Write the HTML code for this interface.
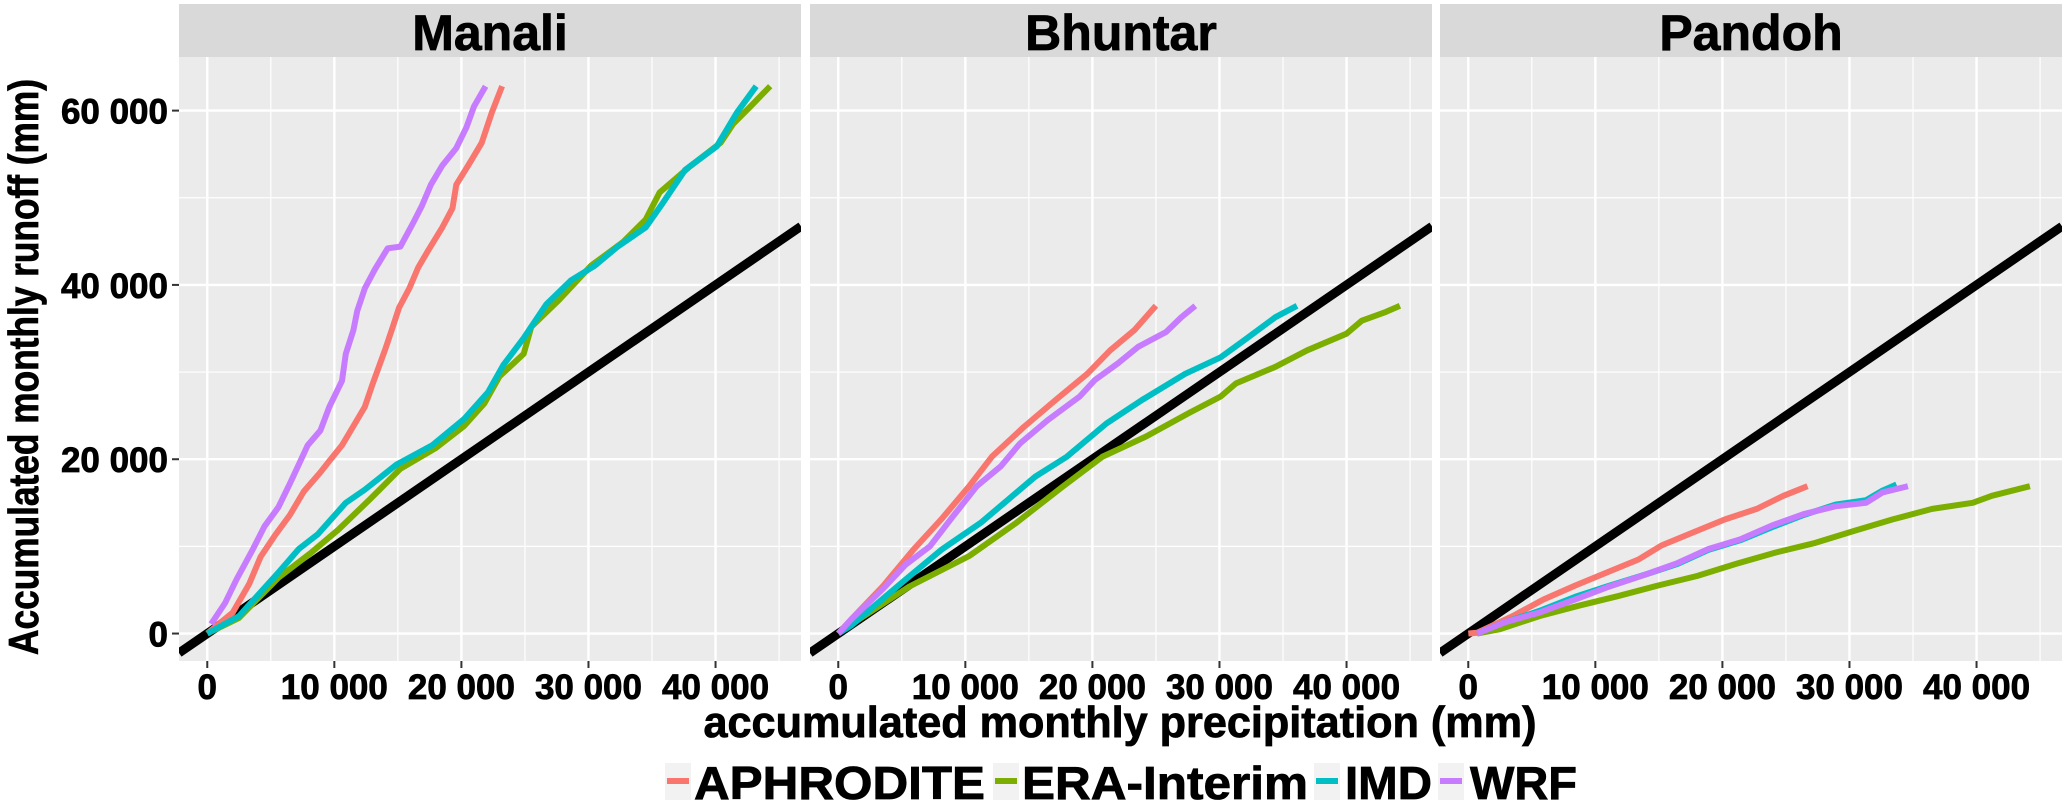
<!DOCTYPE html>
<html><head><meta charset="utf-8"><style>
html,body{margin:0;padding:0;background:#fff;}
svg{display:block;font-family:"Liberation Sans",Arial,sans-serif;font-weight:bold;}
svg text{stroke:#000;stroke-width:0.8px;}
</style></head><body>
<svg id="chart" width="2067" height="805" viewBox="0 0 2067 805" xmlns="http://www.w3.org/2000/svg">
<g id="layer"></g>
</svg>
<script>
const panelNames = ["Manali","Bhuntar","Pandoh"];
const seriesNames = ["APHRODITE","ERA-Interim","IMD","WRF"];
const seriesColors = ["#F8766D","#7CAE00","#00BFC4","#C77CFF"];
const xTicks = [0,10000,20000,30000,40000];
const xTickLabels = ["0","10 000","20 000","30 000","40 000"];
const yTicks = [0,20000,40000,60000];
const yTickLabels = ["0","20 000","40 000","60 000"];
// values in thousands of mm: [precip, runoff]
const manaliAphrodite = [[0,0],[2,2.4],[3.3,5.7],[4.2,8.8],[5.3,11.2],[6.5,13.6],[7.6,16.3],[8.9,18.5],[9.6,19.8],[10.6,21.6],[11.5,23.8],[12.4,26],[13,28.6],[14,32.6],[14.6,35.2],[15.1,37.4],[15.9,39.6],[16.6,42],[17.4,44],[18.5,46.6],[19.3,48.8],[19.6,51.5],[20.7,54.1],[21.6,56.3],[22.4,59.8],[23.2,62.8]];
const manaliEra = [[0,0],[2.5,1.8],[5.6,6.4],[8.1,9.2],[10.3,11.9],[12.8,15.4],[15.2,18.9],[18,21.3],[20.2,23.8],[21.8,26.4],[23,29.5],[24.9,32.1],[25.5,35.2],[27.7,38.3],[30.2,42.2],[32.7,44.9],[34.5,47.5],[35.6,50.6],[37.9,53.5],[40.4,56.3],[41.4,58.5],[42.9,60.7],[44.3,62.8]];
const manaliImd = [[0,0],[2.5,2],[5.6,7],[7.2,9.7],[8.7,11.4],[10.9,15],[12.4,16.5],[14.9,19.4],[17.7,21.6],[20.2,24.6],[22.1,27.7],[23.3,30.8],[24.9,33.9],[26.7,37.8],[28.6,40.5],[30.5,42.2],[32.3,44.4],[34.5,46.6],[35.8,49.3],[37.6,53.2],[40.1,55.9],[41.7,59.8],[43.2,62.8]];
const manaliWrf = [[0.3,1.1],[1.4,3.5],[2.3,6.2],[3.6,9.7],[4.5,12.3],[5.6,14.5],[6.5,17.2],[7.2,19.4],[7.9,21.6],[8.9,23.3],[9.6,26],[10.6,29],[10.9,32.1],[11.5,34.8],[11.8,37],[12.4,39.6],[13.2,41.8],[14.2,44.2],[15.2,44.4],[16.2,47.1],[16.9,49.1],[17.6,51.5],[18.5,53.7],[19.6,55.7],[20.4,58.1],[21,60.5],[21.9,62.8]];
const bhuntarAphrodite = [[0,0],[1,1.6],[3.5,5.4],[5.9,9.6],[8.1,13.1],[10.3,16.9],[12.1,20.3],[14.6,23.7],[17.1,26.8],[19.6,29.8],[21.4,32.5],[23.3,34.8],[25,37.6]];
const bhuntarEra = [[0,0],[1.6,1.6],[5.6,5.4],[10.3,8.9],[14,12.7],[17.7,16.9],[20.8,20.3],[24.2,22.6],[27.6,25.3],[30.1,27.2],[31.3,28.7],[34.4,30.6],[36.9,32.5],[40,34.4],[41.2,35.9],[43.1,36.9],[44.2,37.6]];
const bhuntarImd = [[0,0],[1,0.9],[5.3,6.2],[8.1,9.6],[11.2,12.7],[13.4,15.4],[15.5,18],[18,20.3],[21.1,24.1],[23.9,26.8],[27.3,29.8],[30.1,31.7],[31.9,33.6],[34.4,36.3],[36.1,37.6]];
const bhuntarWrf = [[0,0],[1,1.6],[3.5,5.1],[5.3,7.9],[7.2,10],[9,13.4],[10.9,16.9],[12.8,19.2],[14.3,21.8],[16.5,24.5],[19,27.2],[20.2,29.1],[22,31],[23.6,32.9],[25.8,34.6],[27,36.3],[28.1,37.6]];
const pandohAphrodite = [[0,0],[0.7,0.1],[3.5,2],[5.9,3.9],[8.4,5.5],[10.9,7],[13.4,8.5],[15.2,10.1],[17.7,11.6],[20.2,13.1],[22.7,14.3],[24.8,15.8],[26.7,16.9]];
const pandohEra = [[0.7,0],[2.5,0.5],[5.6,2],[8.7,3.2],[11.8,4.3],[14.9,5.5],[18,6.6],[21.1,8],[24.2,9.3],[27.3,10.4],[30.4,11.8],[33.4,13.1],[36.5,14.3],[39.7,15],[41.2,15.8],[44.2,16.9]];
const pandohImd = [[0.7,0],[2.9,1.3],[5.6,2.6],[8.4,4.2],[10.9,5.4],[14,6.8],[16.5,8],[18.9,9.6],[21.4,10.7],[23.9,12.2],[26.4,13.6],[28.9,14.8],[31.3,15.3],[32.6,16.4],[33.7,17.1]];
const pandohWrf = [[0.7,0],[2.9,1.3],[5.6,2.4],[8.4,3.9],[10.9,5.3],[14,6.8],[16.5,8.1],[18.9,9.7],[21.4,10.8],[23.9,12.4],[26.4,13.7],[28.9,14.6],[31.3,15],[32.6,16.2],[34.6,16.9]];
const panelSeries = [[manaliAphrodite,manaliEra,manaliImd,manaliWrf],[bhuntarAphrodite,bhuntarEra,bhuntarImd,bhuntarWrf],[pandohAphrodite,pandohEra,pandohImd,pandohWrf]];

const NS="http://www.w3.org/2000/svg";
const layer=document.getElementById('layer');
const panelLeft=[179,810,1440], PW=622, PT=57, PB=661;
const XMIN=-2225, XMAX=46725, YMIN=-3150, YMAX=66150;
function xs(p,v){return panelLeft[p]+(v-XMIN)/(XMAX-XMIN)*PW;}
function ys(v){return PB-(v-YMIN)/(YMAX-YMIN)*(PB-PT);}
function mk(tag,attrs,parent){const e=document.createElementNS(NS,tag);for(const k in attrs)e.setAttribute(k,attrs[k]);(parent||layer).appendChild(e);return e;}

panelSeries.forEach((series,p)=>{
  const g=mk('g',{});
  
  
  const bg=mk('rect',{x:panelLeft[p],y:PT,width:PW,height:PB-PT,fill:'#EBEBEB'},g);
  
  
  const clipId='clip'+p;
  const cp=mk('clipPath',{id:clipId},g);
  mk('rect',{x:panelLeft[p],y:PT,width:PW,height:PB-PT},cp);
  for(let v=5000;v<XMAX;v+=10000){const l=mk('line',{x1:xs(p,v),x2:xs(p,v),y1:PT,y2:PB,stroke:'#fff','stroke-width':1.2},g);}
  for(let v=10000;v<YMAX;v+=20000){const l=mk('line',{x1:panelLeft[p],x2:panelLeft[p]+PW,y1:ys(v),y2:ys(v),stroke:'#fff','stroke-width':1.2},g);}
  xTicks.forEach((v,i)=>{
    const l=mk('line',{x1:xs(p,v),x2:xs(p,v),y1:PT,y2:PB,stroke:'#fff','stroke-width':2.4},g);
    
    
    const t=mk('line',{x1:xs(p,v),x2:xs(p,v),y1:PB,y2:PB+7,stroke:'#333','stroke-width':2},g);
    
    
    const tx=mk('text',{x:xs(p,v),y:699,'text-anchor':'middle','font-size':35,fill:'#000'},g);
    tx.textContent=xTickLabels[i];
    
    
  });
  yTicks.forEach(v=>{
    const l=mk('line',{x1:panelLeft[p],x2:panelLeft[p]+PW,y1:ys(v),y2:ys(v),stroke:'#fff','stroke-width':2.4},g);
    
    
  });
  const cg=mk('g',{'clip-path':'url(#'+clipId+')'},g);
  const ref=mk('line',{x1:xs(p,XMIN),y1:ys(XMIN),x2:xs(p,XMAX),y2:ys(XMAX),stroke:'#000','stroke-width':9},cg);
  
  
  series.forEach((pts,s)=>{
    const d=pts.map((q,i)=>(i?'L':'M')+xs(p,q[0]*1000).toFixed(1)+','+ys(q[1]*1000).toFixed(1)).join('');
    const path=mk('path',{d:d,fill:'none',stroke:seriesColors[s],'stroke-width':6,'stroke-linejoin':'round'},cg);
    
    
  });
  const st=mk('rect',{x:panelLeft[p],y:4,width:PW,height:PT-4,fill:'#D9D9D9'},g);
  
  
  const stt=mk('text',{x:panelLeft[p]+PW/2,y:50,'text-anchor':'middle','font-size':50,fill:'#000'},g);
  stt.textContent=panelNames[p];
  
  
});
yTicks.forEach((v,i)=>{
  const t=mk('line',{x1:172,x2:179,y1:ys(v),y2:ys(v),stroke:'#333','stroke-width':2});
  
  
  const tx=mk('text',{x:168,y:ys(v)+13,'text-anchor':'end','font-size':35,fill:'#000'});
  tx.textContent=yTickLabels[i];
  
  
});
const yt=mk('text',{x:0,y:0,transform:'translate(38,367) rotate(-90)','text-anchor':'middle','font-size':42,textLength:576,lengthAdjust:'spacingAndGlyphs',fill:'#000'});
yt.textContent='Accumulated monthly runoff (mm)';


const xt=mk('text',{x:1120,y:737,'text-anchor':'middle','font-size':44,textLength:833,lengthAdjust:'spacingAndGlyphs',fill:'#000'});
xt.textContent='accumulated monthly precipitation (mm)';


const legKeyX=[665,993,1314,1438];
const legTextX=[694,1022,1345,1470];
const legTextW=[291,286,87,107];
seriesNames.forEach((n,i)=>{
  const g=mk('g',{});
  
  
  mk('rect',{x:legKeyX[i],y:763,width:26,height:37,fill:'#F2F2F2'},g);
  mk('line',{x1:legKeyX[i]+2,x2:legKeyX[i]+24,y1:781,y2:781,stroke:seriesColors[i],'stroke-width':6},g);
  const t=mk('text',{x:legTextX[i],y:799,'font-size':46,textLength:legTextW[i],lengthAdjust:'spacingAndGlyphs',fill:'#000'},g);
  t.textContent=n;
});
</script>
</body></html>
